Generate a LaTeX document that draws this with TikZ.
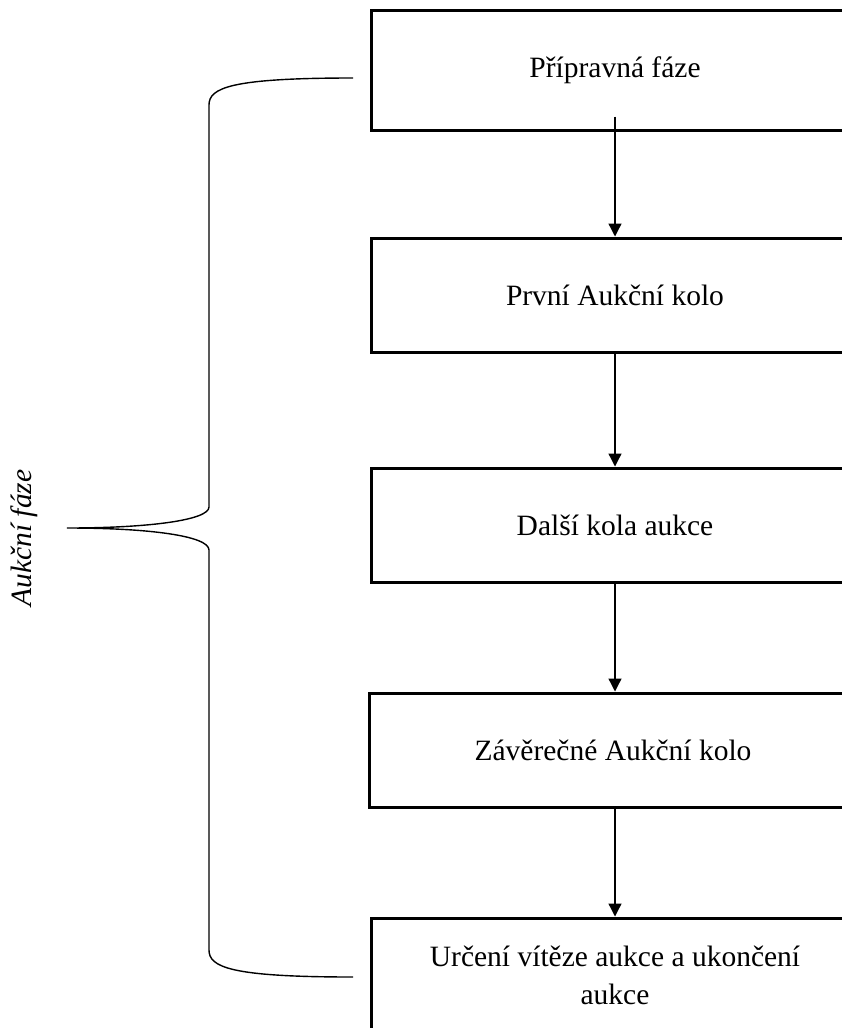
\documentclass[tikz,border=0pt]{standalone}
\usepackage{fontspec}
\setmainfont{Liberation Serif}
\usetikzlibrary{arrows.meta}
\begin{document}
\begin{tikzpicture}[x=1pt,y=-1pt,
  stagebox/.style={draw, line width=3pt, rectangle, minimum width=488pt, minimum height=114pt, inner sep=0pt, align=center, font=\fontsize{29.5}{38}\selectfont},
  flowarrow/.style={line width=1.3pt, -{Triangle[width=13pt,length=13pt]}},
  bracepath/.style={line width=1.4pt}]
\useasboundingbox (0,0) rectangle (842,1028);
\clip (0,0) rectangle (842,1028);
\fill[white] (0,0) rectangle (842,1028);
\node[stagebox, minimum height=120pt] (b1) at (615,70) {Přípravná fáze};
\node[stagebox] (b2) at (615,295) {První Aukční kolo};
\node[stagebox] (b3) at (615,525) {Další kola aukce};
\node[stagebox] (b4) at (613,750) {Závěrečné Aukční kolo};
\node[stagebox] (b5) at (615,975) {Určení vítěze aukce a ukončení\\aukce};
\draw[flowarrow] ([yshift=15pt]b1.south -| b2.north) -- (b2.north);
\draw[flowarrow] (b2.south) -- (b3.north);
\draw[flowarrow] (b3.south) -- (b4.north -| b3.south);
\draw[flowarrow] (b4.south -| b5.north) -- (b5.north);
\coordinate (btop) at (353,78);
\coordinate (btip) at (67,528);
\coordinate (bbot) at (353,977);
\draw[bracepath] (btop) .. controls (230,78) and (209,88) .. (209,105)
  -- (209,507) .. controls (209,520) and (150,528) .. (btip)
  .. controls (150,528) and (209,536) .. (209,550)
  -- (209,950) .. controls (209,967) and (230,977) .. (bbot);
\node[rotate=90, font=\fontsize{29.5}{34}\selectfont\itshape] (lbl) at (24,538) {Aukční fáze};
\end{tikzpicture}
\end{document}
